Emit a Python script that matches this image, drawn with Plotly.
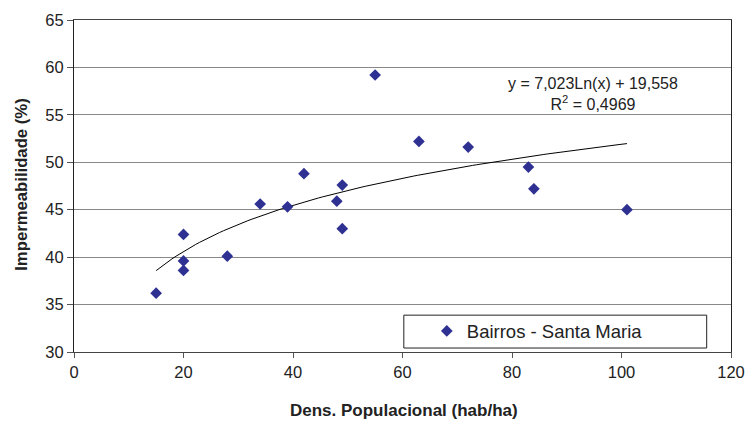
import numpy as np
import plotly.graph_objects as go

dens = [15, 20, 20, 20, 28, 34, 39, 42, 48, 49, 49, 55, 63, 72, 83, 84, 101]
imperm = [36.2, 42.4, 39.6, 38.6, 40.1, 45.6, 45.3, 48.8, 45.9, 47.6, 43.0, 59.2, 52.2, 51.6, 49.5, 47.2, 45.0]
coef_a = 7.023
coef_b = 19.558
r2_text = "0,4969"

xt = np.linspace(min(dens), max(dens), 120)
yt = coef_a * np.log(xt) + coef_b

fig = go.Figure()
fig.add_trace(go.Scatter(x=xt, y=yt, mode="lines", line=dict(color="black", width=1),
                         showlegend=False, hoverinfo="skip"))
fig.add_trace(go.Scatter(x=dens, y=imperm, mode="markers", name="Bairros - Santa Maria",
                         marker=dict(symbol="diamond", size=9, color="#2E3192",
                                     line=dict(width=0))))

font = "Liberation Sans, Arial, sans-serif"
fig.update_layout(
    width=747, height=421,
    margin=dict(l=74, r=16, t=20, b=69),
    paper_bgcolor="white", plot_bgcolor="white",
    font=dict(family=font, size=16.5, color="#222"),
    xaxis=dict(range=[0, 120], dtick=20, showgrid=False, zeroline=False, automargin=False,
               showline=True, linecolor="#444", linewidth=1, mirror=True,
               ticks="outside", ticklen=5, tickcolor="#555"),
    yaxis=dict(range=[30, 65], dtick=5, showgrid=True, gridcolor="#888", gridwidth=1,
               zeroline=False, showline=True, linecolor="#222", linewidth=1, mirror=True,
               automargin=False, ticks="outside", ticklen=6, tickcolor="#555"),
    legend=dict(x=0.537, y=0.062, xanchor="left", yanchor="middle",
                bgcolor="rgba(0,0,0,0)", borderwidth=0,
                font=dict(size=18.5), itemsizing="trace"),
    showlegend=True,
)
fig.add_shape(type="rect", xref="paper", yref="paper", x0=0.502, x1=0.963, y0=0.012, y1=0.111,
              line=dict(color="#222", width=1), fillcolor="white", layer="below")
fig.add_annotation(x=94.8, y=57.2, xref="x", yref="y",
                   text=f"y = {str(coef_a).replace('.', ',')}Ln(x) + {str(coef_b).replace('.', ',')}<br>R<sup>2</sup> = {r2_text}",
                   showarrow=False, font=dict(size=16, color="#222"), align="center")
fig.add_annotation(x=0.502, y=-0.175, xref="paper", yref="paper",
                   text="<b>Dens. Populacional (hab/ha)</b>", showarrow=False,
                   font=dict(size=17), xanchor="center", yanchor="middle")
fig.add_annotation(x=-0.081, y=0.503, xref="paper", yref="paper",
                   text="<b>Impermeabilidade (%)</b>", showarrow=False, textangle=-90,
                   font=dict(size=16.7), xanchor="center", yanchor="middle")
fig.write_html("out.html", config={"displayModeBar": False},
               post_script="document.body.style.margin='0';")
